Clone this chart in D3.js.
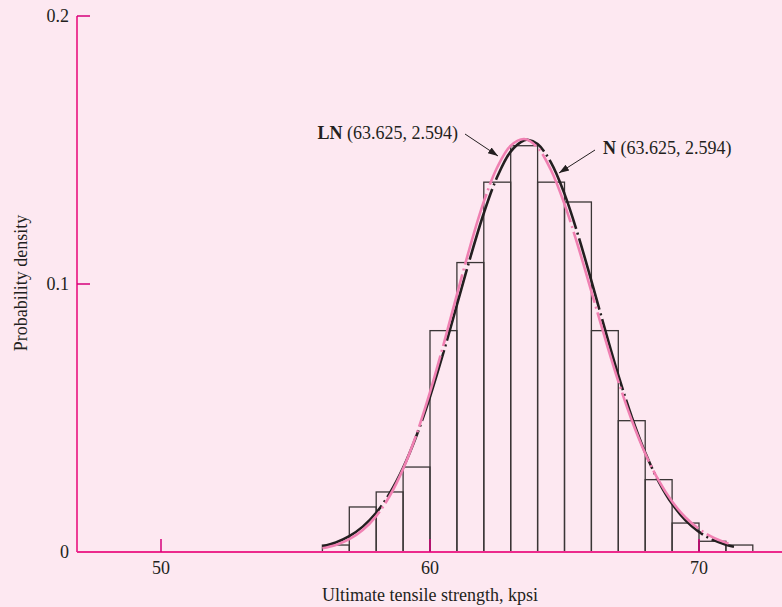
<!DOCTYPE html>
<html>
<head>
<meta charset="utf-8">
<script src="https://cdn.jsdelivr.net/npm/d3@7"></script>
<style>
  html, body { margin: 0; padding: 0; background: #fde8f1; }
  svg { display: block; }
  text { font-family: "Liberation Serif", "DejaVu Serif", serif; fill: #231f20; }
</style>
</head>
<body>
<svg id="chart" width="782" height="607"></svg>
<script>
// Histogram: bin left edges (kpsi) and probability densities
const binStarts = [56, 57, 58, 59, 60, 61, 62, 63, 64, 65, 66, 67, 68, 69, 70, 71];
const binDensity = [0.0026, 0.0168, 0.0224, 0.0317, 0.0826, 0.108, 0.138, 0.1516, 0.138, 0.1306, 0.0826, 0.049, 0.027, 0.0108, 0.004, 0.0026];

// Fitted normal curve N(63.625, 2.594), sampled points
const normX = [56, 56.5, 57, 57.5, 58, 58.5, 59, 59.5, 60, 60.5, 61, 61.5, 62, 62.5, 63, 63.5, 63.625, 64, 64.5, 65, 65.5, 66, 66.5, 67, 67.5, 68, 68.5, 69, 69.5, 70, 70.5, 71, 71.3];
const normY = [0.00205, 0.00354, 0.0059, 0.00947, 0.01465, 0.02185, 0.03138, 0.04344, 0.05793, 0.07444, 0.09217, 0.10996, 0.1264, 0.13999, 0.1494, 0.15362, 0.1538, 0.1522, 0.1453, 0.13364, 0.11844, 0.10115, 0.08322, 0.06597, 0.05039, 0.03709, 0.0263, 0.01797, 0.01183, 0.00751, 0.00459, 0.0027, 0.00193];

// Fitted lognormal curve LN(63.625, 2.594), sampled points
const lognX = [56, 56.5, 57, 57.5, 58, 58.5, 59, 59.5, 60, 60.5, 61, 61.5, 62, 62.5, 63, 63.5, 64, 64.5, 65, 65.5, 66, 66.5, 67, 67.5, 68, 68.5, 69, 69.5, 70, 70.5, 71, 71.1];
const lognY = [0.00138, 0.00263, 0.00477, 0.0082, 0.01341, 0.02089, 0.03102, 0.04399, 0.05962, 0.07731, 0.09603, 0.11436, 0.13072, 0.14355, 0.15159, 0.15408, 0.15088, 0.14246, 0.12981, 0.11423, 0.09717, 0.07996, 0.06369, 0.04915, 0.03678, 0.02669, 0.01881, 0.01287, 0.00857, 0.00555, 0.00349, 0.00318];

const xTicks = [50, 60, 70];
const yTicks = [0, 0.1, 0.2];
const yTickLabels = ["0", "0.1", "0.2"];

const svg = d3.select("#chart");
const W = 782, H = 607;
svg.append("rect").attr("width", W).attr("height", H).attr("fill", "#fde8f1");

const x0 = 77, yBase = 552;
const x = d3.scaleLinear().domain([50, 70]).range([161, 699]);
const y = d3.scaleLinear().domain([0, 0.2]).range([yBase, 16]);

// Bars
svg.append("g").selectAll("rect").data(binStarts).join("rect")
  .attr("x", d => x(d))
  .attr("y", (d, i) => y(binDensity[i]))
  .attr("width", d => x(d + 1) - x(d))
  .attr("height", (d, i) => yBase - y(binDensity[i]))
  .attr("fill", "none")
  .attr("stroke", "#3a3536")
  .attr("stroke-width", 1.3);

// Curves
const line = d3.line().x(d => x(d[0])).y(d => y(d[1])).curve(d3.curveCatmullRom);
svg.append("path")
  .datum(normX.map((v, i) => [v, normY[i]]))
  .attr("d", line)
  .attr("fill", "none")
  .attr("stroke", "#231f20")
  .attr("stroke-width", 2.6)
  .attr("stroke-dasharray", "74,4,2,4");
svg.append("path")
  .datum(lognX.map((v, i) => [v, lognY[i]]))
  .attr("d", line)
  .attr("fill", "none")
  .attr("stroke", "#f080b2")
  .attr("stroke-width", 2.6)
  .attr("stroke-dasharray", "74,4,2,4")
  .attr("stroke-dashoffset", 4);

// Axes
const axisColor = "#ec2a8c", tickColor = "#d4007a";
svg.append("line").attr("x1", x0).attr("x2", W).attr("y1", yBase).attr("y2", yBase)
  .attr("stroke", axisColor).attr("stroke-width", 1.8);
svg.append("line").attr("x1", x0).attr("x2", x0).attr("y1", y(0.2)).attr("y2", yBase)
  .attr("stroke", axisColor).attr("stroke-width", 1.8);

// x ticks
const xt = svg.append("g");
xt.selectAll("line").data(xTicks).join("line")
  .attr("x1", d => x(d)).attr("x2", d => x(d))
  .attr("y1", yBase).attr("y2", yBase - 13)
  .attr("stroke", tickColor).attr("stroke-width", 1.5);
xt.selectAll("text").data(xTicks).join("text")
  .attr("x", d => x(d)).attr("y", 574)
  .attr("text-anchor", "middle").attr("font-size", 18)
  .text(d => d);

// y ticks
const yt = svg.append("g");
yt.selectAll("line").data(yTicks.filter(d => d > 0)).join("line")
  .attr("x1", x0).attr("x2", x0 + 13)
  .attr("y1", d => y(d)).attr("y2", d => y(d))
  .attr("stroke", tickColor).attr("stroke-width", 1.5);
yt.selectAll("text").data(yTicks).join("text")
  .attr("x", 69).attr("y", d => y(d) + 6)
  .attr("text-anchor", "end").attr("font-size", 18)
  .text((d, i) => yTickLabels[i]);

// Axis titles
svg.append("text").attr("x", 430).attr("y", 601)
  .attr("text-anchor", "middle").attr("font-size", 18)
  .text("Ultimate tensile strength, kpsi");
svg.append("text")
  .attr("transform", "translate(27,283) rotate(-90)")
  .attr("text-anchor", "middle").attr("font-size", 18)
  .text("Probability density");

// Annotations
const defs = svg.append("defs");
defs.append("marker").attr("id", "arr").attr("viewBox", "0 0 10 10")
  .attr("refX", 10).attr("refY", 5).attr("markerWidth", 10).attr("markerHeight", 10)
  .attr("markerUnits", "userSpaceOnUse").attr("orient", "auto")
  .append("path").attr("d", "M0,1.5 L10,5 L0,8.5 Z").attr("fill", "#231f20");

const t1 = svg.append("text").attr("x", 458).attr("y", 139)
  .attr("text-anchor", "end").attr("font-size", 18);
t1.append("tspan").attr("font-weight", "bold").text("LN");
t1.append("tspan").text(" (63.625, 2.594)");
svg.append("line").attr("x1", 465).attr("y1", 134).attr("x2", 498).attr("y2", 156)
  .attr("stroke", "#231f20").attr("stroke-width", 1).attr("marker-end", "url(#arr)");

const t2 = svg.append("text").attr("x", 603).attr("y", 154)
  .attr("text-anchor", "start").attr("font-size", 18);
t2.append("tspan").attr("font-weight", "bold").text("N");
t2.append("tspan").text(" (63.625, 2.594)");
svg.append("line").attr("x1", 595).attr("y1", 150).attr("x2", 559).attr("y2", 173)
  .attr("stroke", "#231f20").attr("stroke-width", 1).attr("marker-end", "url(#arr)");
</script>
</body>
</html>
